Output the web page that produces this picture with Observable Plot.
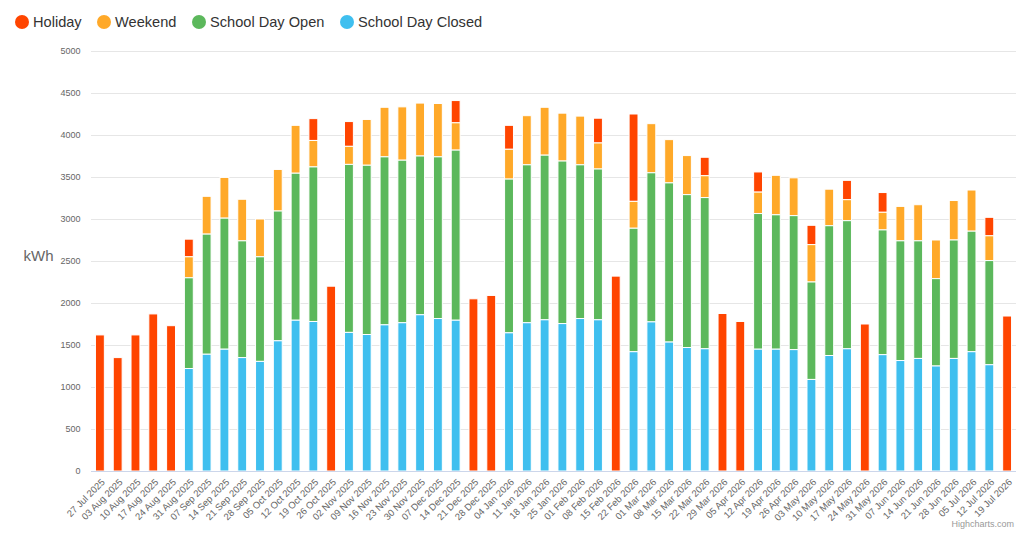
<!DOCTYPE html>
<html><head><meta charset="utf-8">
<script src="https://cdn.jsdelivr.net/npm/d3@7"></script>
<script src="https://cdn.jsdelivr.net/npm/@observablehq/plot@0.6"></script>
<style>
body{margin:0;background:#fff;font-family:"Liberation Sans",Arial,Helvetica,sans-serif;}
#wrap{position:relative;width:1024px;height:533px;overflow:hidden;}
#legend{position:relative;height:40px;}
.item{position:absolute;top:13px;height:18px;line-height:18px;display:flex;align-items:center;font-size:14.6px;color:#333;white-space:nowrap;}
.dot{width:14px;height:14px;border-radius:50%;margin-right:4px;flex:none;}
#credit{position:absolute;right:10px;top:519px;font-size:9px;color:#999;}
</style></head>
<body>
<div id="wrap">
<div id="legend"></div>
<div id="chart"></div>
<div id="credit">Highcharts.com</div>
</div>
<script>
const weeks = ["27 Jul 2025","03 Aug 2025","10 Aug 2025","17 Aug 2025","24 Aug 2025","31 Aug 2025","07 Sep 2025","14 Sep 2025","21 Sep 2025","28 Sep 2025","05 Oct 2025","12 Oct 2025","19 Oct 2025","26 Oct 2025","02 Nov 2025","09 Nov 2025","16 Nov 2025","23 Nov 2025","30 Nov 2025","07 Dec 2025","14 Dec 2025","21 Dec 2025","28 Dec 2025","04 Jan 2026","11 Jan 2026","18 Jan 2026","25 Jan 2026","01 Feb 2026","08 Feb 2026","15 Feb 2026","22 Feb 2026","01 Mar 2026","08 Mar 2026","15 Mar 2026","22 Mar 2026","29 Mar 2026","05 Apr 2026","12 Apr 2026","19 Apr 2026","26 Apr 2026","03 May 2026","10 May 2026","17 May 2026","24 May 2026","31 May 2026","07 Jun 2026","14 Jun 2026","21 Jun 2026","28 Jun 2026","05 Jul 2026","12 Jul 2026","19 Jul 2026"];

const holiday = [1620,1350,1620,1870,1730,210,0,0,0,0,0,0,260,2200,295,0,0,0,0,0,265,2050,2090,285,0,0,0,0,295,2320,1040,0,0,0,220,1875,1780,240,0,0,230,0,230,1750,235,0,0,0,0,0,220,1845];
const weekend = [0,0,0,0,0,250,450,485,495,450,495,570,315,0,215,545,590,635,630,635,325,0,0,355,585,570,570,580,310,0,320,585,515,465,260,0,0,255,470,450,445,435,250,0,210,410,430,460,470,490,295,0];
const schoolDayOpen = [0,0,0,0,0,1080,1430,1560,1390,1245,1545,1750,1840,0,2000,2015,2000,1935,1890,1925,2025,0,0,1830,1880,1960,1935,1830,1795,0,1470,1775,1895,1820,1800,0,0,1615,1600,1595,1160,1545,1525,0,1485,1425,1400,1040,1410,1435,1240,0];
const schoolDayClosed = [0,0,0,0,0,1220,1390,1450,1350,1305,1550,1795,1780,0,1650,1625,1740,1765,1860,1815,1795,0,0,1645,1765,1800,1755,1815,1800,0,1420,1775,1535,1470,1455,0,0,1450,1450,1445,1090,1375,1455,0,1385,1315,1340,1250,1340,1420,1265,0];

const seriesNames = ["Holiday","Weekend","School Day Open","School Day Closed"];
const seriesColors = ["#ff4500","#ffa929","#5cb85c","#3fbfef"];
const yTicks = [0,500,1000,1500,2000,2500,3000,3500,4000,4500,5000];

const seriesValues = [holiday, weekend, schoolDayOpen, schoolDayClosed];
const data = [];
seriesNames.forEach((name, s) => {
  weeks.forEach((w, i) => {
    const v = seriesValues[s][i];
    if (v > 0) data.push({week: w, series: name, value: v});
  });
});

// legend
const legendLefts = [15, 97, 192, 340];
const legend = document.getElementById("legend");
seriesNames.forEach((name, i) => {
  const it = document.createElement("div");
  it.className = "item";
  it.style.left = legendLefts[i] + "px";
  it.innerHTML = `<span class="dot" style="background:${seriesColors[i]}"></span><span>${name}</span>`;
  legend.appendChild(it);
});

const chart = Plot.plot({
  width: 1024,
  height: 493,
  marginLeft: 91,
  marginRight: 8,
  marginTop: 11,
  marginBottom: 62,
  style: {fontFamily: '"Liberation Sans", Arial, Helvetica, sans-serif', background: "#fff"},
  x: {domain: weeks, paddingInner: 0.5, paddingOuter: 0.25, label: null},
  y: {domain: [0, 5000], label: null},
  color: {domain: seriesNames, range: seriesColors},
  marks: [
    Plot.gridY(yTicks.slice(1), {stroke: "#e6e6e6", strokeOpacity: 1}),
    Plot.axisY(yTicks, {tickSize: 0, tickPadding: 11, fontSize: 9, fill: "#666", label: null, tickFormat: d3.format("d")}),
    Plot.barY(data, Plot.stackY({
      x: "week", y: "value", fill: "series",
      order: ["School Day Closed", "School Day Open", "Weekend", "Holiday"],
      stroke: "#fff", strokeWidth: 1
    })),
    Plot.ruleY([0], {stroke: "#ccd6eb"}),
    Plot.axisX({tickSize: 0, tickPadding: 8, tickRotate: -45, fontSize: 9.5, fill: "#666", label: null, dx: 3, dy: 1}),
    Plot.text(["kWh"], {frameAnchor: "left", dx: -68, dy: -5, textAnchor: "start", fontSize: 15, fill: "#666"})
  ]
});
document.getElementById("chart").appendChild(chart);
</script>
</body></html>
